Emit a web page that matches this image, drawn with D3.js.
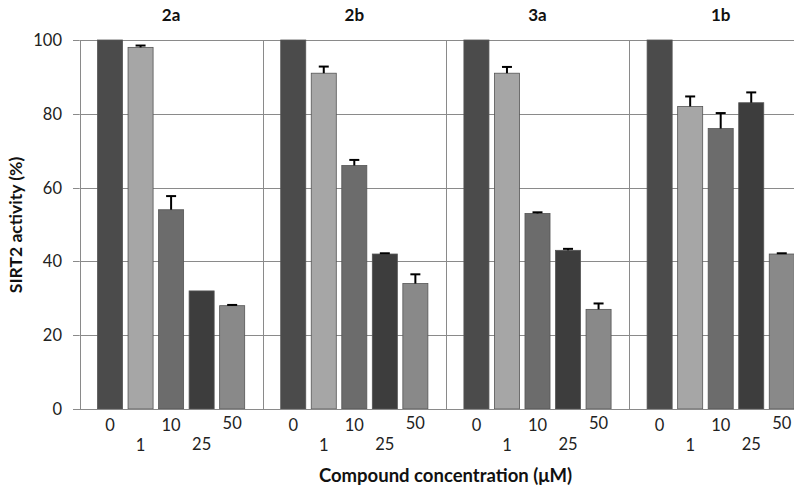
<!DOCTYPE html>
<html><head><meta charset="utf-8">
<script src="https://cdn.jsdelivr.net/npm/d3@7"></script>
<style>body{margin:0;background:#fff}svg{display:block}</style>
</head><body>
<svg id="c" width="800" height="490"></svg>
<script>
const panels = ["2a", "2b", "3a", "1b"];
const concentrations = ["0", "1", "10", "25", "50"];
const values2a = [100, 98, 54, 32, 28];
const values2b = [100, 91, 66, 42, 34];
const values3a = [100, 91, 53, 43, 27];
const values1b = [100, 82, 76, 83, 42];
const errors2a = [0, 0.5, 3.7, 0, 0.2];
const errors2b = [0, 1.8, 1.5, 0.2, 2.5];
const errors3a = [0, 1.7, 0.3, 0.4, 1.6];
const errors1b = [0, 2.7, 4.2, 2.8, 0.2];
const yTicks = [0, 20, 40, 60, 80, 100];
const yLabel = "SIRT2 activity (%)";
const xLabel = "Compound concentration (\u03bcM)";

(function () {
const seriesValues = [values2a, values2b, values3a, values1b];
const seriesErrors = [errors2a, errors2b, errors3a, errors1b];
const data = [];
panels.forEach((p, i) => concentrations.forEach((c, j) =>
  data.push({panel: p, conc: c, idx: j, v: seriesValues[i][j], e: seriesErrors[i][j]})));

const font = "Lato, 'Open Sans', sans-serif";
const barFill = ["#4b4b4b", "#a6a6a6", "#6c6c6c", "#3d3d3d", "#898989"];
const labelDy = [0, 20, 0, 18.5, -2.5];
const svg = d3.select("#c");
const mLeft = 79.5, mTop = 40, mBottom = 409, panelW = 183.2, clipRight = 794;

const xPanel = d3.scaleBand().domain(panels).range([mLeft, mLeft + panelW * panels.length]);
const xBar = d3.scaleBand().domain(concentrations).range([0, panelW]).paddingInner(0.18).paddingOuter(0.59);
const y = d3.scaleLinear().domain([0, 100]).range([mBottom, mTop]);

svg.append("defs").append("clipPath").attr("id", "clip")
  .append("rect").attr("x", 0).attr("y", 0).attr("width", clipRight).attr("height", 490);

const g = svg.append("g").attr("clip-path", "url(#clip)");
const gridColor = "#8a8a8a";

g.selectAll("line.grid").data(yTicks.filter(t => t > 0)).join("line")
  .attr("x1", mLeft).attr("x2", mLeft + panelW * panels.length)
  .attr("y1", d => Math.round(y(d)) + 0.5).attr("y2", d => Math.round(y(d)) + 0.5)
  .attr("stroke", gridColor).attr("stroke-width", 1);

g.selectAll("line.div").data(panels).join("line")
  .attr("x1", d => Math.round(xPanel(d)) + 0.5).attr("x2", d => Math.round(xPanel(d)) + 0.5)
  .attr("y1", mTop).attr("y2", mBottom)
  .attr("stroke", gridColor).attr("stroke-width", 1);

svg.selectAll("line.tick").data(yTicks).join("line")
  .attr("x1", mLeft - 6.5).attr("x2", mLeft)
  .attr("y1", d => Math.round(y(d)) + 0.5).attr("y2", d => Math.round(y(d)) + 0.5)
  .attr("stroke", gridColor);

svg.append("line").attr("x1", mLeft - 6.5).attr("x2", clipRight)
  .attr("y1", mBottom + 0.5).attr("y2", mBottom + 0.5).attr("stroke", gridColor);

g.selectAll("rect.bar").data(data).join("rect")
  .attr("x", d => xPanel(d.panel) + xBar(d.conc))
  .attr("width", xBar.bandwidth())
  .attr("y", d => y(d.v))
  .attr("height", d => y(0) - y(d.v))
  .attr("fill", d => barFill[d.idx])
  .attr("stroke", "#555").attr("stroke-width", 0.8);

const cx = d => xPanel(d.panel) + xBar(d.conc) + xBar.bandwidth() / 2;
const eb = g.selectAll("g.err").data(data.filter(d => d.e > 0)).join("g");
eb.append("line")
  .attr("x1", cx).attr("x2", cx)
  .attr("y1", d => y(d.v)).attr("y2", d => y(d.v + d.e))
  .attr("stroke", "#000").attr("stroke-width", 2);
eb.append("line")
  .attr("x1", d => cx(d) - 5).attr("x2", d => cx(d) + 5)
  .attr("y1", d => y(d.v + d.e)).attr("y2", d => y(d.v + d.e))
  .attr("stroke", "#000").attr("stroke-width", 2);

svg.selectAll("text.yt").data(yTicks).join("text")
  .attr("x", 62).attr("y", d => y(d) + 6)
  .attr("text-anchor", "end").attr("font-family", font).attr("font-size", 16.5)
  .attr("fill", "#222").text(d => d);

svg.selectAll("text.xt").data(data).join("text")
  .attr("x", cx)
  .attr("y", d => 431 + labelDy[d.idx])
  .attr("text-anchor", "middle").attr("font-family", font).attr("font-size", 16.5)
  .attr("fill", "#222").text(d => d.conc);

svg.selectAll("text.pt").data(panels).join("text")
  .attr("x", d => xPanel(d) + panelW / 2).attr("y", 21)
  .attr("text-anchor", "middle").attr("font-family", font).attr("font-size", 17)
  .attr("font-weight", "bold").attr("fill", "#111").text(d => d);

svg.append("text").attr("transform", "translate(22,225) rotate(-90)")
  .attr("text-anchor", "middle").attr("font-family", font).attr("font-size", 17.5)
  .attr("font-weight", "bold").attr("fill", "#111").text(yLabel);
svg.append("text").attr("x", 445.5).attr("y", 482)
  .attr("text-anchor", "middle").attr("font-family", font).attr("font-size", 18.5)
  .attr("font-weight", "bold").attr("fill", "#111").text(xLabel);
})();
</script>
</body></html>
